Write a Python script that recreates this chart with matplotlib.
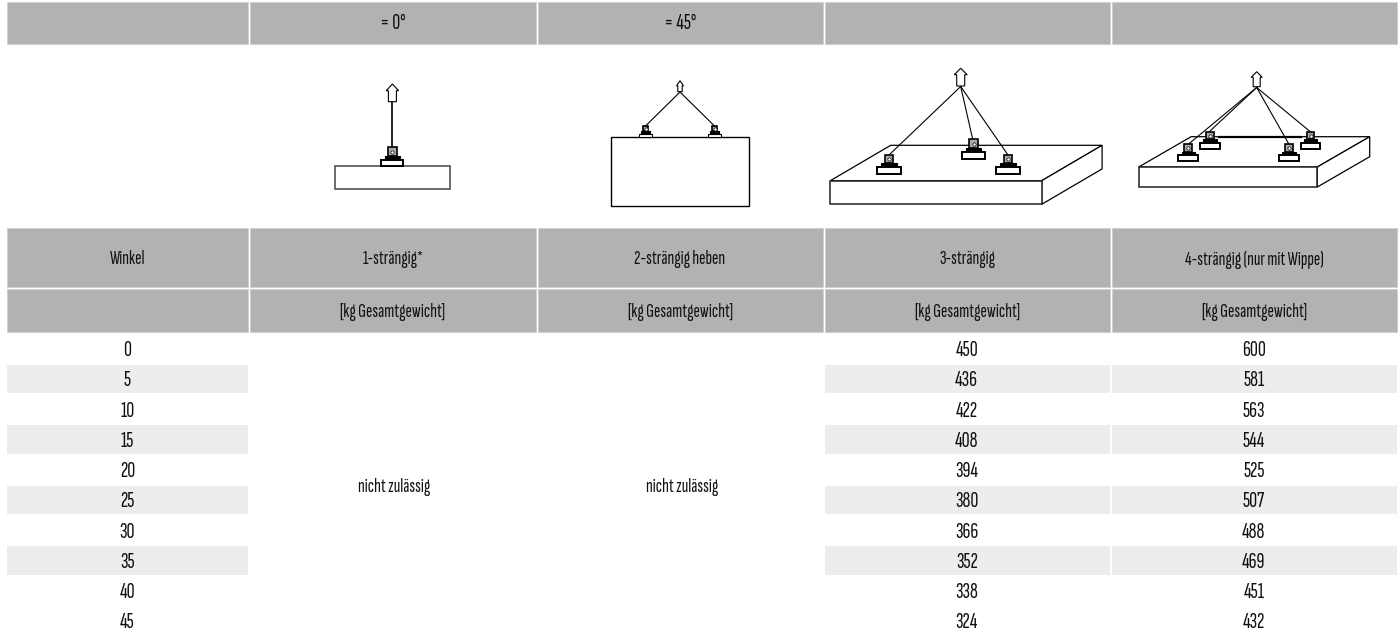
import matplotlib
matplotlib.use("Agg")
import matplotlib.pyplot as plt
from matplotlib.patches import Rectangle, Polygon

# table contents
top_labels = ["", "= 0°", "= 45°", "", ""]
head_labels = ["Winkel", "1-strängig*", "2-strängig heben", "3-strängig", "4-strängig (nur mit Wippe)"]
unit_labels = ["", "[kg Gesamtgewicht]", "[kg Gesamtgewicht]", "[kg Gesamtgewicht]", "[kg Gesamtgewicht]"]
winkel = [0, 5, 10, 15, 20, 25, 30, 35, 40, 45]
kg_3 = [450, 436, 422, 408, 394, 380, 366, 352, 338, 324]
kg_4 = [600, 581, 563, 544, 525, 507, 488, 469, 451, 432]
not_allowed = "nicht zulässig"

# column edges in pixels
cols = [(7, 248), (250, 535.5), (537.5, 822.5), (824.5, 1110), (1112, 1397)]
FONT = ["Sofia Sans Extra Condensed", "Pathway Gothic One", "DejaVu Sans"]
FS = 14
FS_NUM = 16
HEAD = "#b2b2b2"
BAND = "#ededed"
INK = "#111111"

fig = plt.figure(figsize=(13.99, 6.36), dpi=100)
ax = fig.add_axes([0, 0, 1, 1])
ax.set_xlim(0, 1399)
ax.set_ylim(636, 0)
ax.axis("off")


def label(x, y, s, size=FS):
    ax.text(x, y, s, ha="center", va="center", fontsize=size, family=FONT, color=INK)


def header_row(y0, y1, labels, size=FS, dy=2):
    for (x0, x1), s in zip(cols, labels):
        ax.add_patch(Rectangle((x0, y0), x1 - x0, y1 - y0, fc=HEAD, ec="#cfcfcf", lw=0.6))
        label((x0 + x1) / 2, (y0 + y1) / 2 + dy, s, size)


def arrow(x, top, neck, bottom, half, head):
    pts = [(x, top), (x + head, neck), (x + half, neck), (x + half, bottom),
           (x - half, bottom), (x - half, neck), (x - head, neck)]
    ax.add_patch(Polygon(pts, fc="white", ec="black", lw=0.8, zorder=4))


def eye_bolt(x, top, base_top, base_bottom, half, thick=1.4):
    # ring, black foot and white plate of the lifting point
    mid = base_top - (base_top - top) * 0.32
    foot = half * 0.68
    ring = half * 0.38
    ax.add_patch(Rectangle((x - ring, top), 2 * ring, mid - top, fc="#aaaaaa", ec="black", lw=1.2, zorder=5))
    ax.plot([x], [top + (mid - top) * 0.5], "o", ms=2.4, mfc="white", mec="black", mew=0.5, zorder=6)
    ax.add_patch(Rectangle((x - foot, mid), 2 * foot, base_top - mid, fc="black", ec="black", lw=0.8, zorder=5))
    ax.add_patch(Rectangle((x - half, base_top), 2 * half, base_bottom - base_top, fc="white", ec="black", lw=thick, zorder=5))


def sling(x0, y0, x1, y1, lw=0.8):
    ax.plot([x0, x1], [y0, y1], color="black", lw=lw, zorder=3)


def plate(x0, x1, y0, y1, dx, dy):
    ax.add_patch(Polygon([(x0, y0), (x0 + dx, y0 - dy), (x1 + dx, y0 - dy), (x1, y0)], fc="white", ec="black", lw=0.9, zorder=2))
    ax.add_patch(Polygon([(x1, y0), (x1 + dx, y0 - dy), (x1 + dx, y1 - dy), (x1, y1)], fc="white", ec="black", lw=0.9, zorder=2))
    ax.add_patch(Rectangle((x0, y0), x1 - x0, y1 - y0, fc="white", ec="#222222", lw=1.1, zorder=2))


# header rows
header_row(1.5, 44.3, top_labels, FS_NUM, 1)
header_row(228.3, 286.5, head_labels)
header_row(288.5, 331.7, unit_labels)

# value rows, the grey bands stop before the last row
row_y = 334
row_h = 30.25
for i in range(len(winkel)):
    y0 = row_y + i * row_h
    ym = y0 + row_h / 2 + 1.5
    if i % 2 == 1 and i < 9:
        for c in (0, 3, 4):
            x0, x1 = cols[c]
            ax.add_patch(Rectangle((x0, y0 + 0.4), x1 - x0, 28.4, fc=BAND, ec="none"))
    label(sum(cols[0]) / 2, ym, str(winkel[i]), FS_NUM)
    label(sum(cols[3]) / 2 - 0.5, ym, str(kg_3[i]), FS_NUM)
    label(sum(cols[4]) / 2 - 0.5, ym, str(kg_4[i]), FS_NUM)
label(394, 487, not_allowed)
label(682, 487, not_allowed)

# 1-strängig
ax.add_patch(Rectangle((334.5, 165.7), 115.5, 23.3, fc="white", ec="#444444", lw=1.1))
sling(392.4, 101.7, 392.4, 148, lw=1.2)
arrow(392.4, 84, 90.7, 101.7, 4, 6.2)
eye_bolt(392.4, 147.3, 160, 165.7, 11)

# 2-strängig
ax.add_patch(Rectangle((611, 137.3), 138, 69, fc="white", ec="black", lw=1.0))
sling(680, 92, 645.5, 126)
sling(680, 92, 714.5, 126)
arrow(680, 80.7, 86, 91.7, 2.2, 3.5)
eye_bolt(645.5, 126, 134, 137.3, 6.5, thick=0.8)
eye_bolt(714.5, 126, 134, 137.3, 6.5, thick=0.8)

# 3-strängig
plate(830.3, 1041.7, 180.7, 204.3, 60.4, 35.4)
sling(960.7, 86.5, 889, 155)
sling(960.7, 86.5, 972.7, 139.3)
sling(960.7, 86.5, 1008, 155)
arrow(960.7, 68.3, 74.7, 86, 4, 6.5)
eye_bolt(889, 155, 167.3, 174, 11.8)
eye_bolt(973.6, 139.3, 152.3, 159, 11.4)
eye_bolt(1008, 155, 167.3, 174, 11.7)

# 4-strängig
plate(1138.7, 1317.3, 167, 187, 52.4, 30.3)
ax.plot([1219, 1301], [136.7, 136.7], color="black", lw=1.6, zorder=3)
sling(1256.7, 87.5, 1188.3, 144.3)
sling(1256.7, 87.5, 1209.3, 131.7)
sling(1256.7, 87.5, 1289, 144.3)
sling(1256.7, 87.5, 1310.3, 131.7)
arrow(1256.7, 71.7, 77.3, 86.7, 3.5, 5.5)
eye_bolt(1188.2, 144.3, 155.3, 161.3, 9.8)
eye_bolt(1210, 131.7, 143, 148.7, 9.7)
eye_bolt(1289, 144.3, 155.3, 161.3, 9.7)
eye_bolt(1310.6, 131.7, 143, 148.7, 9.7)

fig.savefig("out.png", dpi=100)
